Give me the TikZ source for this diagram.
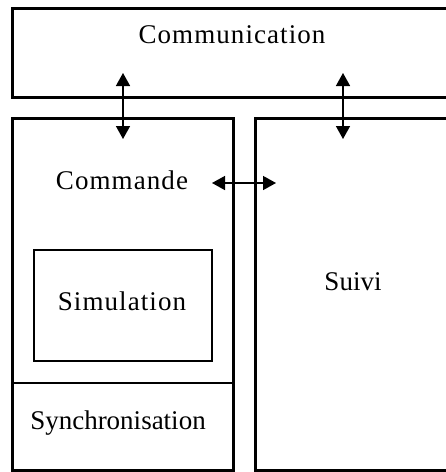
\documentclass[tikz,border=0pt]{standalone}
\usepackage{fontspec}
\setmainfont{Liberation Serif}
\newfontfamily\spacedserif[LetterSpace=4]{Liberation Serif}
\usetikzlibrary{arrows.meta}
\tikzset{
  bigbox/.style={draw, line width=3pt, rectangle, inner sep=0pt, anchor=north west},
  smallbox/.style={draw, line width=1.8pt, rectangle, inner sep=0pt, anchor=north west},
  lbl/.style={inner sep=0pt, font=\fontsize{27}{30}\selectfont},
  slbl/.style={inner sep=0pt, font=\spacedserif\fontsize{27}{30}\selectfont},
  link/.style={line width=1.5pt, {Triangle[length=13pt,width=14pt]}-{Triangle[length=13pt,width=14pt]}}
}
\begin{document}
\begin{tikzpicture}[x=1pt,y=-1pt]
\useasboundingbox (0,0) rectangle (446,472);
\clip (0,0) rectangle (446,472);
\fill[white] (0,0) rectangle (446,472);
% boxes
\node[bigbox, minimum width=470pt, minimum height=89pt] (comm) at (11,7) {};
\node[bigbox, minimum width=221pt, minimum height=352pt] (cmd) at (11,117) {};
\node[bigbox, minimum width=226pt, minimum height=352pt] (suivibox) at (254,117) {};
\node[smallbox, minimum width=178pt, minimum height=111pt] (sim) at (33,249) {};
\node[inner sep=0pt, anchor=north west, minimum width=221pt, minimum height=86pt] (sync) at (11,383) {};
\draw[line width=1.8pt] (sync.north west) -- (sync.north east);
% labels
\node[slbl] (tcomm) at (232,35) {Communication};
\node[slbl] (tcmd) at (122,180) {Commande};
\node[slbl] (tsim) at (122,301) {Simulation};
\node[lbl] (tsuivi) at (353,282) {Suivi};
\node[lbl] (tsync) at (118,423) {Synchronisation};
% connectors
\coordinate (a1) at (123,73);
\coordinate (a2) at (123,139);
\coordinate (b1) at (343,73);
\coordinate (b2) at (343,139);
\coordinate (c1) at (212,183);
\coordinate (c2) at (276,183);
\draw[link] (a1) -- (a2);
\draw[link] (b1) -- (b2);
\draw[link] (c1) -- (c2);
\end{tikzpicture}
\end{document}
